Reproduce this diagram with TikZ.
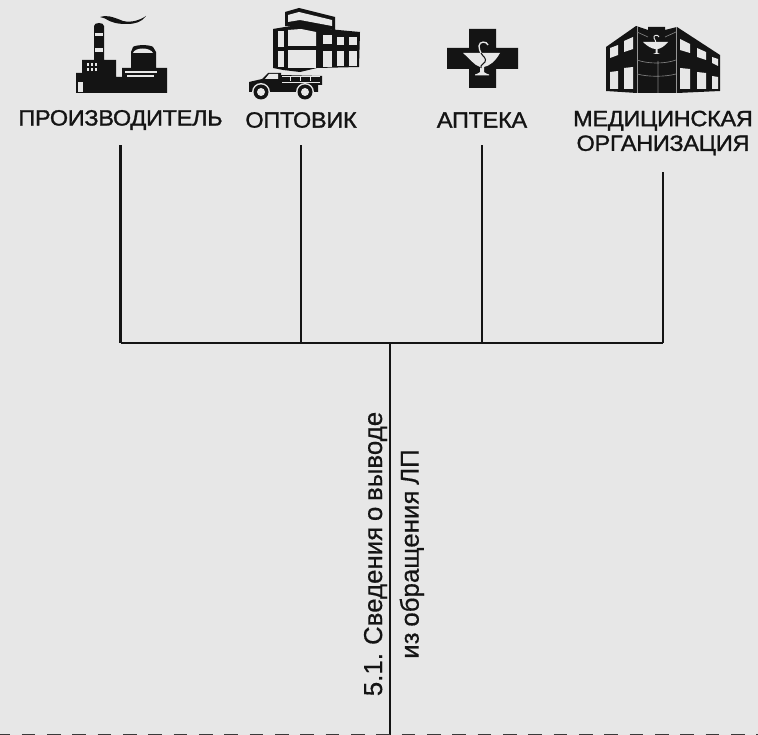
\documentclass[tikz,border=0pt]{standalone}
\usepackage{fontspec}
\setmainfont{Liberation Sans}
\newfontfamily\labfont{Liberation Sans}[FakeStretch=1.06,LetterSpace=-1.2,FakeBold=1.3]
\newfontfamily\sidefont{Liberation Sans}[FakeBold=0.5,WordSpace=0.8]
\definecolor{bgc}{HTML}{E7E7E7}
\definecolor{ink}{HTML}{141414}
\tikzset{
  lab/.style={inner sep=0pt,font=\labfont\fontsize{16.6}{18.5}\selectfont,text=ink,align=center},
  wire/.style={draw=ink,line width=2.1pt},
  sidelab/.style={inner sep=0pt,rotate=90,font=\sidefont\fontsize{19.4}{27.5}\selectfont,text=ink,align=center},
  icon/.style={fill=ink,draw=none},
  hole/.style={fill=bgc,draw=none}
}
\begin{document}
\begin{tikzpicture}[x=0.75pt,y=-0.75pt]
\useasboundingbox (0,0) rectangle (758,735);
\fill[bgc] (0,0) rectangle (758,735);
% factory
\fill[icon] (76,93) -- (76,73) -- (82,73) -- (82,60) -- (94,60) -- (94,26) .. controls (94,22) and (104,22) .. (104,26) -- (104,60) -- (116,60) -- (116,77) -- (122,77) -- (122,68) -- (131,68) -- (131,52) -- (133,47) .. controls (136,44.5) and (150,44.5) .. (153,47) -- (156,52) -- (156,68) -- (167,68) -- (167,93) -- cycle;
\fill[icon] (100,17) .. controls (106,15) and (111,16) .. (123,21) .. controls (132,23) and (140,20) .. (146,16) .. controls (142,22) and (135,24) .. (127,24) .. controls (118,24) and (112,23) .. (105,18.5) .. controls (103,17.5) and (102,17) .. (100,17) -- cycle;
\fill[hole] (95,33) rectangle (103,36.5);
\fill[hole] (95,48) rectangle (103,52);
\fill[hole] (78,82) rectangle (83,92);
\foreach \xx in {86.5,90.5,94.5}{\foreach \yy in {63.5,68}{\fill[hole] (\xx,\yy) rectangle +(2.8,3);}}
\fill[hole] (133,53) .. controls (135,47) and (150,47) .. (153,53) -- cycle;
\fill[hole] (125,71.5) rectangle (157,72.8);
\fill[hole] (127,75.5) rectangle (154,76.8);
% warehouse
\fill[icon] (285,12) -- (299,8) -- (335,17) -- (335,30) -- (285,26) -- cycle;
\fill[hole] (288,15) -- (299,12) -- (332,20) -- (332,26) -- (300,20) -- (288,22) -- cycle;
\fill[icon] (273,29) -- (285,27) -- (298,25) -- (317,28) -- (360,32) -- (359,67) -- (317,68) -- (300,72) -- (283,70) -- (273,68) -- cycle;
\fill[hole] (278,31) rectangle (284,47);
\fill[hole] (278,51) rectangle (284,67);
\fill[hole] (288,30) -- (301,29) -- (316,32) -- (316,46) -- (288,46) -- cycle;
\fill[hole] (288,50) rectangle (316,68);
\fill[hole] (323,35) rectangle (332,44);
\fill[hole] (337,37) rectangle (344,45);
\fill[hole] (349,37) rectangle (357,45);
\fill[hole] (323,51) rectangle (332,67);
\fill[hole] (337,51) rectangle (344,66);
\fill[hole] (349,51) rectangle (357,66);
% truck
\fill[icon] (249,92) -- (249,82) -- (262,79) -- (268,73) -- (281,73) -- (281,75) -- (322,76) -- (322,85) -- (318,85) -- (318,92) -- cycle;
\fill[hole] (265,79) -- (269,74) -- (278,74) -- (278,79) -- cycle;
\fill[hole] (282,82) rectangle (320,83.2);
\fill[hole] (282,76.5) rectangle (320,77.3);
\foreach \xx in {290,300,310}{\fill[hole] (\xx,77) rectangle +(0.8,4);}
\fill[hole] (270,93) rectangle (296,100);
\fill[bgc] (261,92) circle (9);
\fill[icon] (261,92) circle (7.5);
\fill[hole] (261,92) circle (4);
\fill[bgc] (305,92) circle (9);
\fill[icon] (305,92) circle (7.5);
\fill[hole] (305,92) circle (4);
% cross
\fill[icon] (469,29) -- (496,29) -- (496,48) -- (518,48) -- (518,69) -- (496,69) -- (496,88) -- (469,88) -- (469,69) -- (447,69) -- (447,48) -- (469,48) -- cycle;
\fill[hole] (463,53) -- (500,53) .. controls (495,62) and (489,66) .. (484,67) -- (484,72) .. controls (485,73) and (487,74) .. (489,74.5) -- (489,75.5) -- (475,75.5) -- (475,74.5) .. controls (477,74) and (479,73) .. (480,72) -- (480,67) .. controls (474,65) and (470,59) .. (463,53) -- cycle;
\draw[bgc,line width=1pt] (488,45) .. controls (487,41) and (479,41) .. (479,46) .. controls (479,49) and (480,51) .. (481,53);
\draw[ink,line width=0.8pt] (481,53) .. controls (483,57) and (487,58) .. (485,62) .. controls (484,65) and (480,64) .. (481,68);
% medical
\fill[icon] (606,47) -- (636,26) -- (648,30) -- (648,27) -- (665,27) -- (665,30) -- (677,27) -- (720,55) -- (720,91) -- (677,93) -- (637,93) -- (606,91) -- cycle;
\fill[hole] (610,48) -- (618,45) -- (618,55) -- (610,58) -- cycle;
\fill[hole] (624,41) -- (633,37) -- (633,49) -- (624,52) -- cycle;
\fill[hole] (610,72) -- (618,71) -- (618,89) -- (610,89) -- cycle;
\fill[hole] (624,68) -- (633,67) -- (633,89) -- (624,89) -- cycle;
\fill[hole] (680,39) -- (690,44) -- (690,53) -- (680,50) -- cycle;
\fill[hole] (697,48) -- (706,52) -- (706,60) -- (697,57) -- cycle;
\fill[hole] (712,57) -- (718,59) -- (718,66) -- (712,63) -- cycle;
\fill[hole] (680,68) -- (690,69) -- (690,89) -- (680,89) -- cycle;
\fill[hole] (697,72) -- (706,73) -- (706,89) -- (697,89) -- cycle;
\fill[hole] (712,76) -- (718,77) -- (718,89) -- (712,89) -- cycle;
\fill[hole] (643,42) -- (668,42) .. controls (665,46) and (660,49) .. (657.5,49) -- (657.5,53) -- (660,54) -- (653,54) -- (655.5,53) -- (655.5,49) .. controls (652,49) and (647,46) .. (643,42) -- cycle;
\draw[bgc,line width=0.7pt] (659,37) .. controls (658,34) and (653,35) .. (654,38) .. controls (655,40) and (656,41) .. (656,43);
\draw[black!35!bgc,line width=0.7pt] (637,26) -- (637,93) (676,27) -- (676,93);
\draw[black!45!bgc,line width=0.5pt] (658,61) -- (658,93) (637,32) -- (648,37) (676,32) -- (665,37) (637,60) .. controls (648,64) and (665,64) .. (676,60) (637,74) .. controls (648,77) and (665,77) .. (676,74);
% labels
\node[lab,minimum height=50*0.75pt] (prod) at (120.5,120) {ПРОИЗВОДИТЕЛЬ};
\node[lab,minimum height=50*0.75pt] (opt) at (301,120) {ОПТОВИК};
\node[lab,minimum height=50*0.75pt] (apt) at (482,120) {АПТЕКА};
\node[lab,minimum height=78*0.75pt] (med) at (663,133) {МЕДИЦИНСКАЯ\\ОРГАНИЗАЦИЯ};
\coordinate (bus) at (390,343);
\coordinate (bottom) at (390,735);
\draw[wire] (prod.south) -- (prod.south |- bus);
\draw[wire] (opt.south) -- (opt.south |- bus);
\draw[wire] (apt.south) -- (apt.south |- bus);
\draw[wire] (med.south) -- (med.south |- bus);
\draw[wire] (prod.south |- bus) -- (med.south |- bus);
\draw[wire] (bus) -- (bottom);
\node[sidelab] (side) at (394,554) {5.1. Сведения о выводе\\из обращения ЛП};
\coordinate (dl) at (-3.6,735);
\coordinate (dr) at (758,735);
\draw[draw=black!75!bgc,line width=2.2pt,dash pattern=on 10.1pt off 8.9pt] (dl) -- (dr);
\end{tikzpicture}
\end{document}
